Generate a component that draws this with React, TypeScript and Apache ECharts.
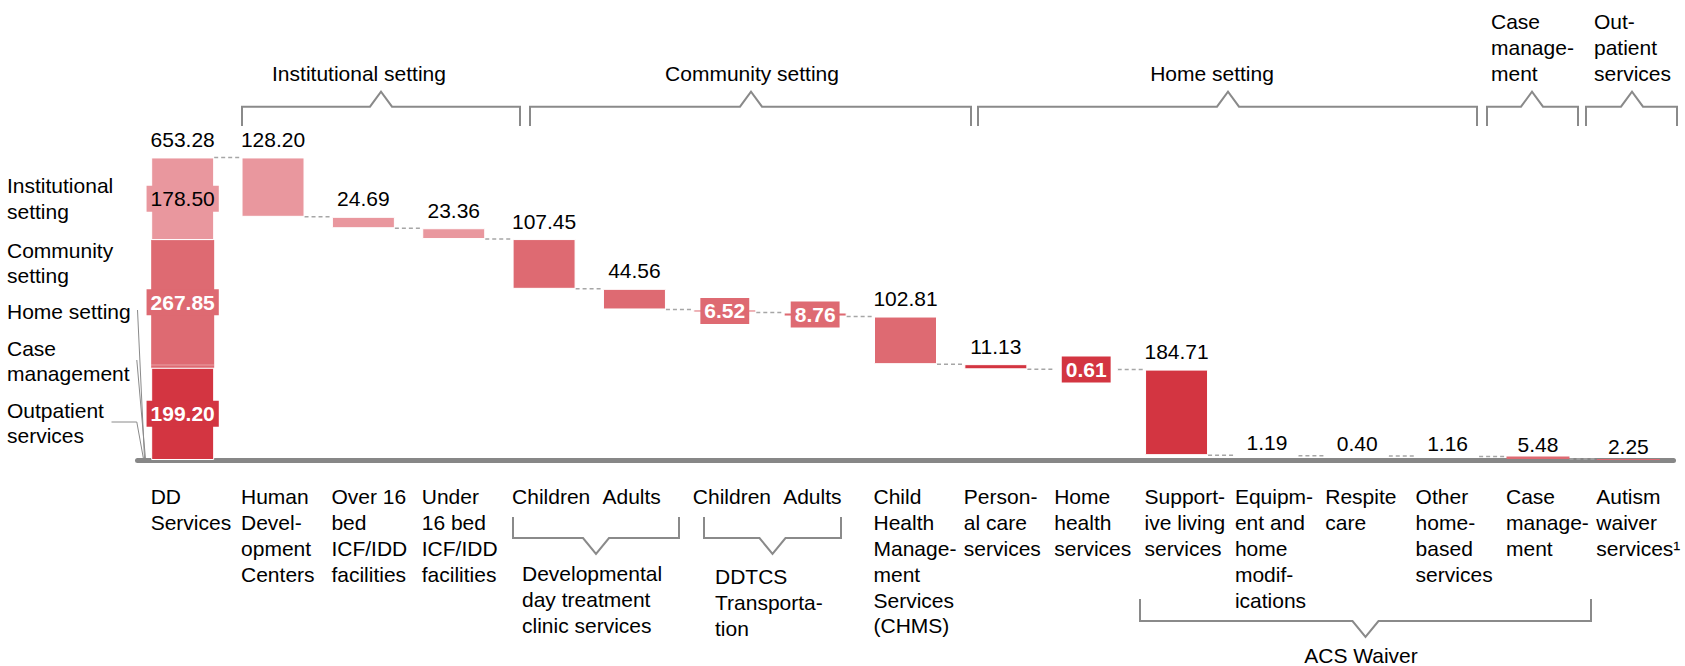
import React, { useEffect, useRef } from 'react';
import * as echarts from 'echarts';

const FONT = '"Liberation Sans", Arial, Helvetica, sans-serif';

// ---------- data ----------
const categoryKeys = [
  'DD Services', 'Human Development Centers', 'Over 16 bed ICF/IDD facilities', 'Under 16 bed ICF/IDD facilities',
  'DDT Children', 'DDT Adults', 'DDTCS Children', 'DDTCS Adults', 'CHMS', 'Personal care services',
  'Home health services', 'Supportive living services', 'Equipment and home modifications', 'Respite care',
  'Other home-based services', 'Case management', 'Autism waiver services',
];

const categoryLabelLines: string[][] = [
  ['DD', 'Services'],
  ['Human', 'Devel-', 'opment', 'Centers'],
  ['Over 16', 'bed', 'ICF/IDD', 'facilities'],
  ['Under', '16 bed', 'ICF/IDD', 'facilities'],
  ['Children'],
  ['Adults'],
  ['Children'],
  ['Adults'],
  ['Child', 'Health', 'Manage-', 'ment', 'Services', '(CHMS)'],
  ['Person-', 'al care', 'services'],
  ['Home', 'health', 'services'],
  ['Support-', 'ive living', 'services'],
  ['Equipm-', 'ent and', 'home', 'modif-', 'ications'],
  ['Respite', 'care'],
  ['Other', 'home-', 'based', 'services'],
  ['Case', 'manage-', 'ment'],
  ['Autism', 'waiver', 'services\u00B9'],
];

const ddTotal = 653.28;
const stepValues: (number | null)[] = [
  null, 128.2, 24.69, 23.36, 107.45, 44.56, 6.52, 8.76, 102.81, 11.13, 0.61, 184.71, 1.19, 0.4, 1.16, 5.48, 2.25,
];
const stepGroups: (string | null)[] = [
  null, 'inst', 'inst', 'inst', 'comm', 'comm', 'comm', 'comm', 'comm', 'home', 'home', 'home', 'home', 'home', 'home', 'case', 'outp',
];
// DD bar breakdown, bottom to top
const ddBreakdownKeys = ['home', 'case', 'outp', 'comm', 'inst'];
const ddBreakdownValues = [199.2, 5.48, 2.25, 267.85, 178.5];
const boxedStepIndices = [6, 7, 10];
const baselineLabelIndices = [12, 13, 14, 15, 16];

const groupNames: Record<string, string> = {
  home: 'Home setting', case: 'Case management', outp: 'Outpatient services',
  comm: 'Community setting', inst: 'Institutional setting',
};
const groupColors: Record<string, string> = {
  inst: '#E9979E', comm: '#DE6A72', home: '#D33541', case: '#DE6A72', outp: '#DE6A72',
};

// ---------- annotations (pixel layout) ----------
const topBrackets = [
  { x1: 242, x2: 520, peak: 381 },
  { x1: 530, x2: 971, peak: 751 },
  { x1: 978, x2: 1477, peak: 1228 },
  { x1: 1487, x2: 1578, peak: 1532 },
  { x1: 1586, x2: 1677, peak: 1632 },
];
const topTexts = [
  { lines: ['Institutional setting'], x: 359, align: 'center' },
  { lines: ['Community setting'], x: 752, align: 'center' },
  { lines: ['Home setting'], x: 1212, align: 'center' },
  { lines: ['Case', 'manage-', 'ment'], x: 1491, align: 'left' },
  { lines: ['Out-', 'patient', 'services'], x: 1594, align: 'left' },
];
const bottomBrackets = [
  { x1: 513, x2: 679, yTop: 517, yLine: 538, tip: 554 },
  { x1: 704, x2: 841, yTop: 517, yLine: 538, tip: 554 },
  { x1: 1140, x2: 1591, yTop: 599, yLine: 621, tip: 637 },
];
const bottomTexts = [
  { lines: ['Developmental', 'day treatment', 'clinic services'], x: 522, yCenter: 599.3, align: 'left', lh: 25.8 },
  { lines: ['DDTCS', 'Transporta-', 'tion'], x: 715, yCenter: 602.5, align: 'left', lh: 25.8 },
  { lines: ['ACS Waiver'], x: 1361, yCenter: 655, align: 'center', lh: 22 },
];
const sideTexts = [
  { lines: ['Institutional', 'setting'], yCenter: 198.3 },
  { lines: ['Community', 'setting'], yCenter: 263 },
  { lines: ['Home setting'], yCenter: 311.7 },
  { lines: ['Case', 'management'], yCenter: 361 },
  { lines: ['Outpatient', 'services'], yCenter: 423 },
];
const leaderLines = [
  [[137.5, 310], [144.5, 459]],
  [[136.8, 360], [145.5, 459]],
  [[111.5, 422], [136.8, 422], [143.5, 459]],
];

const BAR_W = 63;

function buildOption() {
  const n = categoryKeys.length;
  const cum: number[] = [0];
  for (let i = 1; i < n; i++) cum[i] = cum[i - 1] + (stepValues[i] as number);
  const base = categoryKeys.map((_, i) => (i === 0 ? 0 : Math.max(0, +(ddTotal - cum[i]).toFixed(2))));
  const levels = categoryKeys.slice(0, n - 1).map((_, i) => [i, i === 0 ? ddTotal : +(ddTotal - cum[i]).toFixed(2)]);

  const fmt = (p: any) => Number(p.value).toFixed(2);
  const topLabel = {
    show: true, position: 'top', distance: 6, fontFamily: FONT, fontSize: 21, lineHeight: 24, color: '#000',
    textBorderWidth: 0, formatter: fmt,
  };
  const boxLabel = (bg: string, white: boolean) => ({
    show: true, position: 'inside', fontFamily: FONT, fontSize: 21, lineHeight: 24,
    color: white ? '#fff' : '#000', fontWeight: white ? 'bold' : 'normal',
    backgroundColor: bg, padding: [1, 4], textBorderWidth: 0, formatter: fmt,
  });
  const ddLabel: Record<string, any> = {
    inst: boxLabel(groupColors.inst, false),
    comm: boxLabel(groupColors.comm, true),
    home: boxLabel(groupColors.home, true),
    case: { show: false },
    outp: { show: false },
  };
  // DD stack: only the outer segments draw a white separating outline
  const ddBorder: Record<string, number> = { home: 1, case: 0, outp: 0, comm: 0, inst: 1 };

  const groupSeries = ddBreakdownKeys.map((key, k) => {
    const data = categoryKeys.map((_, i) => {
      if (i === 0) {
        return {
          value: ddBreakdownValues[k], label: ddLabel[key],
          itemStyle: { borderWidth: ddBorder[key] },
        };
      }
      if (stepGroups[i] !== key) return '-';
      const boxed = boxedStepIndices.indexOf(i) >= 0;
      const low = baselineLabelIndices.indexOf(i) >= 0;
      const label = boxed ? boxLabel(groupColors[key], true) : low ? { ...topLabel, offset: [0, 6] } : topLabel;
      return { value: stepValues[i], label };
    });
    const tiny = key === 'case' || key === 'outp';
    return {
      name: groupNames[key], type: 'bar', stack: 'wf', barWidth: BAR_W, z: 3,
      itemStyle: { color: groupColors[key], borderColor: '#fff', borderWidth: tiny ? 0 : 1 },
      data,
    };
  });

  const totalData = categoryKeys.map((_, i) => (i === 0 ? { value: 0, label: { ...topLabel, formatter: () => ddTotal.toFixed(2) } } : '-'));

  return {
    animation: false,
    grid: { left: 137.5, right: 11.5, top: 135.8, bottom: 206, containLabel: false },
    xAxis: {
      type: 'category', data: categoryKeys, offset: 3,
      axisLine: { show: true, lineStyle: { color: '#878787', width: 5 } },
      axisTick: { show: false },
      axisLabel: {
        interval: 0, margin: 21,
        formatter: (_v: string, idx: number) => categoryLabelLines[idx].map((l) => `{a|${l}}`).join('\n'),
        rich: { a: { width: 64, align: 'left', fontFamily: FONT, fontSize: 21, lineHeight: 25.8, color: '#000' } },
      },
    },
    yAxis: { type: 'value', min: 0, max: 700, show: false, splitLine: { show: false } },
    series: [
      {
        name: 'base', type: 'bar', stack: 'wf', barWidth: BAR_W, silent: true,
        itemStyle: { color: 'rgba(0,0,0,0)' }, data: base,
      },
      ...groupSeries,
      {
        name: 'total', type: 'bar', stack: 'wf', barWidth: BAR_W, silent: true, z: 4,
        itemStyle: { color: 'rgba(0,0,0,0)' },
        data: totalData,
      },
      {
        name: 'connectors', type: 'custom', z: 1, silent: true, clip: false,
        data: levels,
        encode: { x: 0, y: 1 },
        renderItem: (_params: any, api: any) => {
          const p = api.coord([api.value(0), api.value(1)]);
          const band = api.size([1, 0])[0];
          return {
            type: 'line',
            shape: { x1: p[0] + BAR_W / 2, y1: p[1], x2: p[0] + band - BAR_W / 2, y2: p[1] },
            style: { stroke: '#a6a6a6', lineWidth: 1.5, lineDash: [4, 3] },
          };
        },
      },
    ],
    graphic: buildGraphics(),
  };
}

function textEl(lines: string[], x: number, yCenter: number, align: string, lh = 25.8) {
  return {
    type: 'text', silent: true,
    style: {
      text: lines.join('\n'), x, y: yCenter, align, verticalAlign: 'middle',
      fontFamily: FONT, fontSize: 21, lineHeight: lh, fill: '#000',
    },
  };
}

function buildGraphics() {
  const els: any[] = [];
  const stroke = { stroke: '#8a8a8a', lineWidth: 2, fill: null };
  topBrackets.forEach((b) => {
    els.push({
      type: 'polyline', silent: true,
      shape: { points: [[b.x1, 126], [b.x1, 106.7], [b.peak - 11, 106.7], [b.peak, 91.7], [b.peak + 11, 106.7], [b.x2, 106.7], [b.x2, 126]] },
      style: stroke,
    });
  });
  topTexts.forEach((t) => {
    const yc = t.lines.length === 1 ? 73.3 : 73.3 - ((t.lines.length - 1) * 25.8) / 2;
    els.push(textEl(t.lines, t.x, yc, t.align));
  });
  bottomBrackets.forEach((b) => {
    const mid = (b.x1 + b.x2) / 2;
    els.push({
      type: 'polyline', silent: true,
      shape: { points: [[b.x1, b.yTop], [b.x1, b.yLine], [mid - 13, b.yLine], [mid, b.tip], [mid + 13, b.yLine], [b.x2, b.yLine], [b.x2, b.yTop]] },
      style: stroke,
    });
  });
  bottomTexts.forEach((t) => els.push(textEl(t.lines, t.x, t.yCenter, t.align, t.lh)));
  sideTexts.forEach((t) => els.push(textEl(t.lines, 7, t.yCenter, 'left')));
  leaderLines.forEach((pts) => {
    els.push({ type: 'polyline', silent: true, shape: { points: pts }, style: { stroke: '#8a8a8a', lineWidth: 1, fill: null } });
  });
  return els;
}

export default function App() {
  const ref = useRef<HTMLDivElement>(null);
  useEffect(() => {
    if (!ref.current) return;
    const chart = echarts.init(ref.current, undefined, { renderer: 'svg' });
    chart.setOption(buildOption() as any);
    return () => chart.dispose();
  }, []);
  return (
    <div
      ref={ref}
      style={{ position: 'fixed', left: 0, top: 0, width: 1685, height: 666, background: '#fff' }}
    />
  );
}
